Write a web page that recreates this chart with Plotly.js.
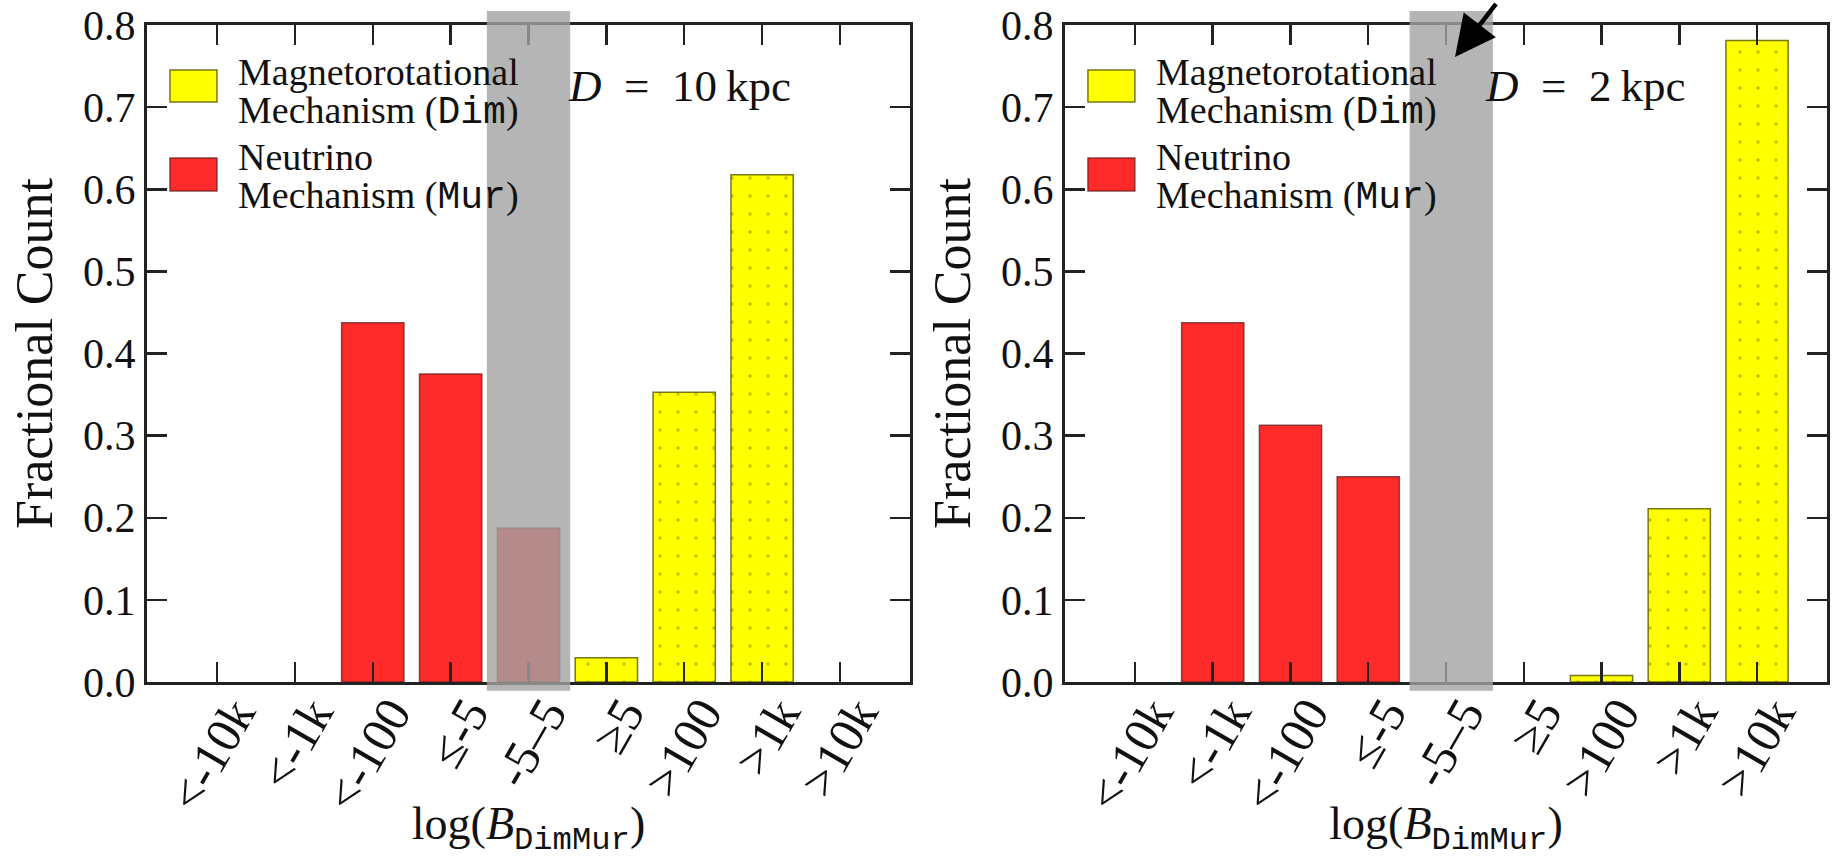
<!DOCTYPE html>
<html>
<head>
<meta charset="utf-8">
<script src="https://cdn.plot.ly/plotly-3.0.1.min.js"></script>
<style>html,body{margin:0;padding:0;background:#fff;}#chart{width:1834px;height:859px;}</style>
</head>
<body>
<div id="chart"></div>
<script>
// ---- data ----
const categories = ['&lt;-10k', '&lt;-1k', '&lt;-100', '≤-5', '-5–5', '≥5', '&gt;100', '&gt;1k', '&gt;10k'];
const dimD10 = [null, null, null, null, null, 0.0294, 0.3529, 0.6176, null];
const murD10 = [null, null, 0.4375, 0.375, 0.1875, null, null, null, null];
const dimD2  = [null, null, null, null, null, null, 0.008, 0.211, 0.781];
const murD2  = [null, 0.4375, 0.3125, 0.25, null, null, null, null, null];
const yTicks = [0, 0.1, 0.2, 0.3, 0.4, 0.5, 0.6, 0.7, 0.8];
const panelLabels = ['10', '2'];
const MONO = 'Liberation Mono';
const seriesLines = [
  ['Magnetorotational', 'Mechanism (<span style="font-family:' + MONO + '">Dim</span>)'],
  ['Neutrino', 'Mechanism (<span style="font-family:' + MONO + '">Mur</span>)']
];

const SERIF = 'Liberation Serif, serif';
const YEL = '#ffff00', RED = '#ff2b2b';
const idx = categories.map((c, i) => i);

function dimTrace(y, xa, ya) {
  return {type: 'bar', x: idx, y: y, xaxis: xa, yaxis: ya, width: 0.8, showlegend: false,
    marker: {color: YEL, line: {color: 'rgba(95,95,0,0.85)', width: 1.5},
      pattern: {shape: '.', fillmode: 'overlay', bgcolor: YEL, fgcolor: '#a8a800', fgopacity: 0.7, size: 18, solidity: 0.03}},
    hoverinfo: 'skip'};
}
function murTrace(y, xa, ya) {
  return {type: 'bar', x: idx, y: y, xaxis: xa, yaxis: ya, width: 0.8, showlegend: false,
    marker: {color: RED, line: {color: 'rgba(100,30,30,0.75)', width: 1.5}}, hoverinfo: 'skip'};
}

const data = [
  murTrace(murD10, 'x', 'y'), dimTrace(dimD10, 'x', 'y'),
  murTrace(murD2, 'x2', 'y2'), dimTrace(dimD2, 'x2', 'y2')
];

function xAxis(domain, anchor) {
  return {domain: domain, anchor: anchor, type: 'linear', range: [-0.9, 8.9],
    tickmode: 'array', tickvals: idx, ticktext: categories, tickangle: -60,
    ticks: 'inside', ticklen: 20, tickwidth: 2.5, tickcolor: '#222',
    showline: true, linecolor: '#222', linewidth: 3, mirror: 'ticks',
    showgrid: false, zeroline: false, automargin: true,
    tickfont: {family: SERIF, size: 50, color: '#111'},
    ticklabelshift: 18, ticklabelstandoff: -21,
    title: {text: 'log(<i>B</i><sub><span style="font-family:' + MONO + '">DimMur</span></sub>)',
      font: {family: SERIF, size: 46, color: '#111'}, standoff: 4}};
}
function yAxis(anchor) {
  return {domain: [0, 1], anchor: anchor, range: [0, 0.8],
    tickmode: 'array', tickvals: yTicks, tickformat: '.1f',
    ticks: 'inside', ticklen: 20, tickwidth: 2.5, tickcolor: '#222',
    showline: true, linecolor: '#222', linewidth: 3, mirror: 'ticks',
    showgrid: false, zeroline: false,
    tickfont: {family: SERIF, size: 42, color: '#111'},
    title: {text: 'Fractional Count', font: {family: SERIF, size: 52, color: '#111'}, standoff: 14}};
}

const W = 1834;
const PLOT_BOTTOM = 682, PLOT_H = 657;
const dy = px => (PLOT_BOTTOM - px) / PLOT_H;   // pixel row -> y domain fraction
const LEG_FS = 38;
const legendBaselines = [[85, 125], [170, 210]];
const shapes = [];
const annotations = [];
const panels = [
  {x: 'x', y: 'y', band: [3.465, 4.535]},
  {x: 'x2', y: 'y2', band: [3.532, 4.603]}
];
panels.forEach((p, k) => {
  shapes.push({type: 'rect', xref: p.x, yref: 'paper', x0: p.band[0], x1: p.band[1], y0: -0.0132, y1: 1.0213,
    fillcolor: 'rgba(163,163,163,0.8)', line: {width: 0}, layer: 'above'});
  // legend swatches
  shapes.push({type: 'rect', xref: p.x + ' domain', yref: p.y + ' domain', x0: 0.0301, x1: 0.0917, y0: dy(102), y1: dy(70),
    fillcolor: YEL, line: {color: 'rgba(95,95,0,0.85)', width: 1.5}, layer: 'below'});
  shapes.push({type: 'rect', xref: p.x + ' domain', yref: p.y + ' domain', x0: 0.0301, x1: 0.0917, y0: dy(191), y1: dy(158),
    fillcolor: RED, line: {color: 'rgba(100,30,30,0.75)', width: 1.5}, layer: 'below'});
  seriesLines.forEach((lines, s) => {
    lines.forEach((txt, l) => {
      annotations.push({xref: p.x + ' domain', yref: p.y + ' domain', x: 0.1166,
        y: dy(legendBaselines[s][l] - 0.35 * LEG_FS), xanchor: 'left', yanchor: 'middle',
        text: txt, align: 'left', showarrow: false, font: {family: SERIF, size: LEG_FS, color: '#111'}});
    });
  });
  annotations.push({xref: p.x + ' domain', yref: p.y + ' domain', x: 0.549, y: 0.907, xanchor: 'left', yanchor: 'middle',
    text: '<i>D</i>\u2002=\u2002' + panelLabels[k] + '\u2009kpc', showarrow: false,
    font: {family: SERIF, size: 45, color: '#111'}});
});
// arrow pointing at the grey band in the right panel
annotations.push({xref: 'paper', yref: 'paper', x: 1455 / W, y: 0.9513, text: ' ', showarrow: true,
  ax: 44, ay: -64, arrowhead: 2, arrowsize: 1.8, arrowwidth: 4.5, arrowcolor: '#000', standoff: 0});

const layout = {
  width: 1834, height: 859,
  margin: {l: 0, r: 0, t: 25, b: 177},
  paper_bgcolor: '#fff', plot_bgcolor: '#fff',
  barmode: 'overlay', showlegend: false,
  xaxis: xAxis([147 / W, 910 / W], 'y'),
  yaxis: yAxis('x'),
  xaxis2: xAxis([1065 / W, 1827 / W], 'y2'),
  yaxis2: yAxis('x2'),
  shapes: shapes, annotations: annotations,
  font: {family: SERIF}
};

Plotly.newPlot('chart', data, layout, {displayModeBar: false, staticPlot: true});
</script>
</body>
</html>
